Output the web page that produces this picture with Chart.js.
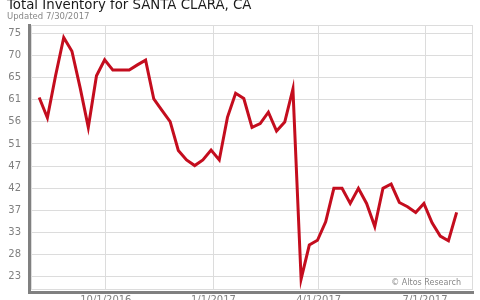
<!DOCTYPE html>
<html>
<head>
<meta charset="utf-8">
<script src="https://cdn.jsdelivr.net/npm/chart.js@4.4.1/dist/chart.umd.min.js"></script>
<style>
  body { margin: 0; background: #fff; }
  canvas { display: block; }
</style>
</head>
<body>
<canvas id="chart" width="480" height="300"></canvas>
<script>
// 제목
const title = 'Total Inventory for SANTA CLARA, CA';
const subtitle = 'Updated 7/30/2017';
const credit = '\u00A9 Altos Research';

// 주간 데이터 (금요일 기준)
const weeks = [
    '2016-08-05', '2016-08-12', '2016-08-19', '2016-08-26',
    '2016-09-02', '2016-09-09', '2016-09-16', '2016-09-23', '2016-09-30',
    '2016-10-07', '2016-10-14', '2016-10-21', '2016-10-28',
    '2016-11-04', '2016-11-11', '2016-11-18', '2016-11-25',
    '2016-12-02', '2016-12-09', '2016-12-16', '2016-12-23', '2016-12-30',
    '2017-01-06', '2017-01-13', '2017-01-20', '2017-01-27',
    '2017-02-03', '2017-02-10', '2017-02-17', '2017-02-24',
    '2017-03-03', '2017-03-10', '2017-03-17', '2017-03-24', '2017-03-31',
    '2017-04-07', '2017-04-14', '2017-04-21', '2017-04-28',
    '2017-05-05', '2017-05-12', '2017-05-19', '2017-05-26',
    '2017-06-02', '2017-06-09', '2017-06-16', '2017-06-23', '2017-06-30',
    '2017-07-07', '2017-07-14', '2017-07-21', '2017-07-28'
];
const inventory = [
    61.6, 57.3, 66.2, 74.3,
    71.4, 63.7, 55.3, 66.2, 69.6,
    67.4, 67.4, 67.4, 68.5,
    69.5, 61.3, 58.9, 56.5,
    50.4, 48.4, 47.2, 48.4, 50.5,
    48.4, 57.4, 62.5, 61.4,
    55.3, 56.1, 58.5, 54.5,
    56.4, 63.4, 23.2, 30.4, 31.4,
    35.3, 42.4, 42.4, 39.2,
    42.4, 39.2, 34.3, 42.4,
    43.3, 39.4, 38.5, 37.3, 39.2,
    35.1, 32.3, 31.3, 37.3
];

// 축 눈금
const xTickDates = ['2016-10-01', '2017-01-01', '2017-04-01', '2017-07-01'];
const xTickLabels = ['10/1/2016', '1/1/2017', '4/1/2017', '7/1/2017'];
const xRange = ['2016-07-29', '2017-08-11'];
const yTickLabels = ['23', '28', '33', '37', '42', '47', '51', '56', '61', '65', '70', '75'];
const yTickLow = 23.7, yTickHigh = 75.18;
const yRange = [21.1, 76.94];

function dayNum(s) {
    return Date.parse(s + 'T00:00:00Z') / 86400000;
}

const points = weeks.map((w, i) => ({ x: dayNum(w), y: inventory[i] }));
const yStep = (yTickHigh - yTickLow) / (yTickLabels.length - 1);

const gridColor = '#dcdcdc';

const decor = {
    id: 'decor',
    beforeDraw(chart) {
        const ctx = chart.ctx;
        ctx.save();
        ctx.fillStyle = '#fff';
        ctx.fillRect(0, 0, chart.width, chart.height);
        ctx.restore();
    },
    afterDraw(chart) {
        const ctx = chart.ctx;
        const a = chart.chartArea;
        ctx.save();
        // 테두리
        ctx.strokeStyle = gridColor;
        ctx.lineWidth = 1;
        ctx.strokeRect(a.left + 0.5, a.top + 0.5, a.right - a.left - 1, a.bottom - a.top);
        // 두꺼운 축선
        ctx.fillStyle = '#808080';
        ctx.fillRect(a.left - 3, a.top - 1, 3, a.bottom - a.top + 6);
        ctx.fillRect(a.left - 1, a.bottom + 2, a.right - a.left + 2, 3);
        // 제목
        ctx.fillStyle = '#1a1a1a';
        ctx.font = '13.3px "DejaVu Sans"';
        ctx.textBaseline = 'alphabetic';
        ctx.fillText(title, 7, 9);
        ctx.fillStyle = '#888';
        ctx.font = '8.5px "DejaVu Sans"';
        ctx.fillText(subtitle, 7, 18.5);
        // 출처
        ctx.font = '8px "DejaVu Sans"';
        ctx.textAlign = 'right';
        ctx.textBaseline = 'middle';
        ctx.fillText(credit, a.right - 12, a.bottom - 6);
        ctx.restore();
    }
};

new Chart(document.getElementById('chart'), {
    type: 'line',
    data: {
        datasets: [{
            data: points,
            borderColor: '#c40d1e',
            borderWidth: 3,
            pointRadius: 0,
            tension: 0,
            fill: false
        }]
    },
    options: {
        responsive: false,
        animation: false,
        events: [],
        layout: { autoPadding: false, padding: { top: 25, right: 7, left: 0, bottom: 0 } },
        plugins: { legend: { display: false }, tooltip: { enabled: false } },
        scales: {
            x: {
                type: 'linear',
                min: dayNum(xRange[0]),
                max: dayNum(xRange[1]),
                afterBuildTicks(scale) {
                    scale.ticks = xTickDates.map(d => ({ value: dayNum(d) }));
                },
                afterFit(scale) {
                    scale.height = 11;
                    scale.paddingLeft = 0;
                    scale.paddingRight = 0;
                },
                grid: { color: gridColor, drawTicks: false },
                border: { display: false },
                ticks: {
                    autoSkip: false,
                    maxRotation: 0,
                    padding: 5,
                    color: '#808080',
                    font: { family: 'DejaVu Sans', size: 10 },
                    callback: (v, i) => xTickLabels[i]
                }
            },
            y: {
                min: yRange[0],
                max: yRange[1],
                afterBuildTicks(scale) {
                    scale.ticks = yTickLabels.map((t, i) => ({ value: yTickLow + i * yStep }));
                },
                afterFit(scale) {
                    scale.width = 31;
                    scale.paddingTop = 0;
                    scale.paddingBottom = 0;
                },
                grid: { color: gridColor, drawTicks: false },
                border: { display: false },
                ticks: {
                    autoSkip: false,
                    padding: 10,
                    color: '#808080',
                    font: { family: 'DejaVu Sans', size: 10 },
                    callback: (v, i) => yTickLabels[i]
                }
            }
        }
    },
    plugins: [decor]
});
</script>
</body>
</html>
